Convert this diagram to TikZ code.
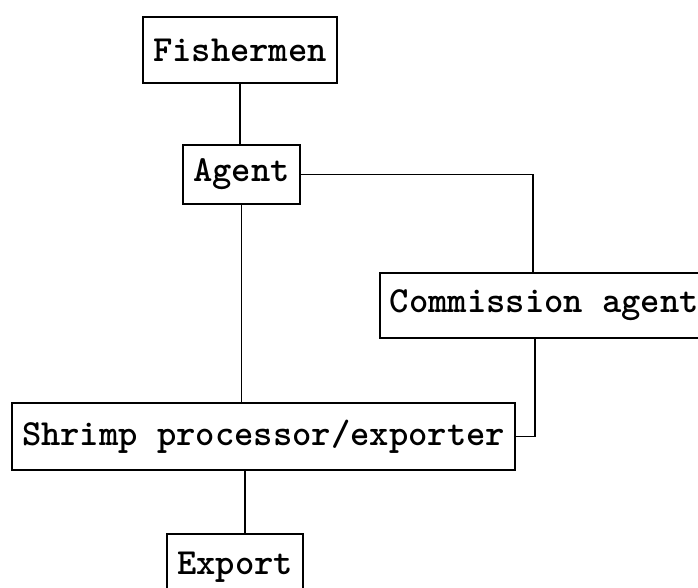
\documentclass[tikz,border=0pt]{standalone}
\usepackage{fontspec}
\usetikzlibrary{positioning}

\begin{document}
\begin{tikzpicture}[
    x=1pt, y=-1pt,
    every node/.style={font=\ttfamily\bfseries\fontsize{36.8}{42}\selectfont},
    box/.style={rectangle, draw, line width=1.6pt, inner xsep=10pt, inner ysep=0pt, align=center},
    link/.style={line width=1.4pt},
]
\useasboundingbox (0,0) rectangle (698,587);
\clip (0,0) rectangle (698,587);

\node[box, minimum width=194pt, minimum height=66pt] (fish) at (240,50) {Fishermen};
\node[box, minimum width=117pt, minimum height=59pt] (agent) at (241.5,174.5) {Agent};
\node[box, anchor=west, minimum height=65pt] (comm) at (379,305.5) {Commission agent};
\node[box, minimum width=503pt, minimum height=67pt] (proc) at (263.5,436.5) {Shrimp processor/exporter};
\node[box, minimum width=136pt, minimum height=66pt] (exp) at (235,567) {Export};

\coordinate (ex) at ([xshift=10pt]exp.north);

\draw[link] (fish.south) -- (fish.south |- agent.north);
\draw[link] (agent.east) -| ([xshift=154pt]comm.north west);
\draw[link] ([xshift=156pt]comm.south west) |- (proc.east);
\draw[link] (agent.south) -- (agent.south |- proc.north);
\draw[link] (ex) -- (ex |- proc.south);
\end{tikzpicture}
\end{document}
